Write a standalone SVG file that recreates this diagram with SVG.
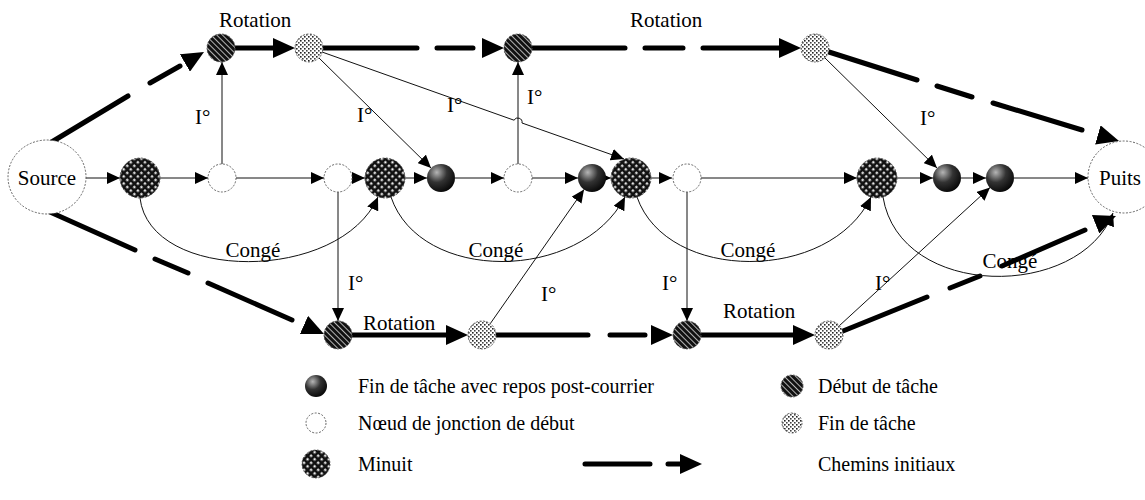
<svg xmlns="http://www.w3.org/2000/svg" width="1145" height="500" viewBox="0 0 1145 500">
  <style>
    text { font-family: "Liberation Serif", "Times New Roman", serif; fill: #000; }
    .lbl { font-size: 21px; }
    .leg { font-size: 20px; }
    .nd { stroke: #555; stroke-width: 0.9; stroke-dasharray: 2 1.5; }
    .thin { fill: none; stroke: #111; stroke-width: 1; marker-end: url(#ah); }
    .thick { fill: none; stroke: #000; stroke-width: 5; stroke-linecap: round; }
    .tip { fill: none; stroke: none; marker-end: url(#ahBig); }
  </style>
  <defs>
    <marker id="ah" markerUnits="userSpaceOnUse" markerWidth="14" markerHeight="12" refX="13" refY="6" orient="auto">
      <path d="M0,0 L13,6 L0,12 z" fill="#000"/>
    </marker>
    <marker id="ahBig" markerUnits="userSpaceOnUse" markerWidth="23" markerHeight="20" refX="22" refY="10" orient="auto">
      <path d="M0,0 L22,10 L0,20 z" fill="#000"/>
    </marker>
    <!-- task start: dark disc with fine light hatching -->
    <pattern id="hatch" width="4" height="4" patternUnits="userSpaceOnUse" patternTransform="rotate(-45)">
      <rect width="4" height="4" fill="#111"/>
      <line x1="0.5" y1="0" x2="0.5" y2="4" stroke="#ddd" stroke-width="0.8"/>
    </pattern>
    <!-- task end: light disc with small dark dots -->
    <pattern id="dots" width="4" height="4" patternUnits="userSpaceOnUse">
      <rect width="4" height="4" fill="#fff"/>
      <rect x="0" y="0" width="1.6" height="1.6" fill="#222"/>
      <rect x="2" y="2" width="1.6" height="1.6" fill="#444"/>
    </pattern>
    <!-- midnight: dark disc with white diamond grid -->
    <pattern id="check" width="5" height="5" patternUnits="userSpaceOnUse" patternTransform="rotate(45)">
      <rect width="5" height="5" fill="#111"/>
      <rect x="1.2" y="1.2" width="2.2" height="2.2" fill="#fff"/>
    </pattern>
    <!-- end with post-mail rest: shaded sphere -->
    <radialGradient id="sphere" cx="0.35" cy="0.3" r="0.8">
      <stop offset="0" stop-color="#b5b5b5"/>
      <stop offset="0.45" stop-color="#333"/>
      <stop offset="1" stop-color="#000"/>
    </radialGradient>
  </defs>
  <rect width="1145" height="500" fill="#fff"/>

  <g id="connectors">
    <!-- initial paths (thick, dashed) -->
    <path class="thick" d="M50,143 L128,96 M150,83 L180,66"/>
    <path class="tip" d="M185,63 L204,52"/>
    <path class="thick" d="M235,48 L285,48"/>
    <path class="tip" d="M273,48 L295,48"/>
    <path class="thick" d="M323,48 L417,48 M437,48 L473,48"/>
    <path class="tip" d="M482,48 L504,48"/>
    <path class="thick" d="M532,48 L625,48 M645,48 L683,48 M703,48 L790,48"/>
    <path class="tip" d="M779,48 L801,48"/>
    <path class="thick" d="M829,52 L917,80 M937,86 L972,97 M993,103 L1082,130"/>
    <path class="tip" d="M1098,135 L1119,141"/>
    <path class="thick" d="M50,212 L135,250 M155,259 L188,273 M208,283 L292,320"/>
    <path class="tip" d="M304,325 L324,334"/>
    <path class="thick" d="M352,335 L458,335"/>
    <path class="tip" d="M446,335 L468,335"/>
    <path class="thick" d="M496,335 L588,335 M610,335 L645,335"/>
    <path class="tip" d="M651,335 L673,335"/>
    <path class="thick" d="M701,335 L805,335"/>
    <path class="tip" d="M793,335 L815,335"/>
    <path class="thick" d="M843,331 L927,297 M950,288 L980,276 M1002,266 L1085,230"/>

    <!-- main row -->
    <path class="thin" d="M86,178 L120,178"/>
    <path class="thin" d="M160,178 L208,178"/>
    <path class="thin" d="M236,178 L324,178"/>
    <path class="thin" d="M352,178 L365,178"/>
    <path class="thin" d="M405,178 L427,178"/>
    <path class="thin" d="M455,178 L504,178"/>
    <path class="thin" d="M532,178 L578,178"/>
    <path class="thin" d="M600,178 L611,178"/>
    <path class="thin" d="M651,178 L672,178"/>
    <path class="thin" d="M700,178 L857,178"/>
    <path class="thin" d="M897,178 L933,178"/>
    <path class="thin" d="M961,178 L986,178"/>
    <path class="thin" d="M1014,178 L1088,178"/>

    <!-- I° links -->
    <path class="thin" d="M222,164 L222,62"/>
    <path class="thin" d="M518,164 L518,62"/>
    <path class="thin" d="M338,192 L338,321"/>
    <path class="thin" d="M687,192 L687,321"/>
    <path class="thin" d="M319,58 L431,168"/>
    <path class="thin" d="M322,52 L514,120.2 A4.3,4.3 0 0 1 522,123 L624,159"/>
    <path class="thin" d="M825,58 L937,168"/>
    <path class="thin" d="M490,324 L584,189.5"/>
    <path class="thin" d="M839,326 L990,187.5"/>

    <!-- Congé arcs -->
    <path class="thin" d="M140,198 C150,283 340,283 378,197"/>
    <path class="thin" d="M391,197 C420,283 580,283 625,197"/>
    <path class="thin" d="M637,197 C667,283 830,283 871,197"/>
    <path class="thin" d="M883,197 C900,300 1080,300 1113,213"/>
    <path class="tip" d="M1096,224 L1116,216"/>
  </g>

  <g id="labels">
    <text class="lbl" x="219" y="27">Rotation</text>
    <text class="lbl" x="630" y="27">Rotation</text>
    <text class="lbl" x="363" y="330">Rotation</text>
    <text class="lbl" x="723" y="318">Rotation</text>
    <text class="lbl" x="195" y="124">I°</text>
    <text class="lbl" x="357" y="122">I°</text>
    <text class="lbl" x="447" y="112">I°</text>
    <text class="lbl" x="527" y="104">I°</text>
    <text class="lbl" x="920" y="125">I°</text>
    <text class="lbl" x="348" y="290">I°</text>
    <text class="lbl" x="541" y="301">I°</text>
    <text class="lbl" x="662" y="290">I°</text>
    <text class="lbl" x="875" y="290">I°</text>
    <text class="lbl" x="253" y="257" text-anchor="middle">Congé</text>
    <text class="lbl" x="496" y="257" text-anchor="middle">Congé</text>
    <text class="lbl" x="748" y="257" text-anchor="middle">Congé</text>
    <text class="lbl" x="1010" y="268" text-anchor="middle">Congé</text>
  </g>

  <g id="source">
    <ellipse class="nd" cx="47" cy="177" rx="39" ry="37" fill="#fff"/>
    <text class="lbl" x="47" y="185" text-anchor="middle">Source</text>
  </g>
  <g id="puits">
    <ellipse class="nd" cx="1124" cy="177" rx="36" ry="36" fill="#fff"/>
    <text class="lbl" x="1120" y="185" text-anchor="middle">Puits</text>
  </g>

  <!-- top row -->
  <g id="t1"><circle class="nd" cx="221" cy="48" r="14" fill="url(#hatch)"/></g>
  <g id="t2"><circle class="nd" cx="309" cy="48" r="14" fill="url(#dots)"/></g>
  <g id="t3"><circle class="nd" cx="518" cy="48" r="14" fill="url(#hatch)"/></g>
  <g id="t4"><circle class="nd" cx="815" cy="48" r="14" fill="url(#dots)"/></g>

  <!-- main row -->
  <g id="m1"><circle class="nd" cx="140" cy="178" r="20" fill="url(#check)"/></g>
  <g id="j1"><circle class="nd" cx="222" cy="178" r="14" fill="#fff"/></g>
  <g id="j2"><circle class="nd" cx="338" cy="178" r="14" fill="#fff"/></g>
  <g id="m2"><circle class="nd" cx="385" cy="178" r="20" fill="url(#check)"/></g>
  <g id="f1"><circle cx="441" cy="178" r="14" fill="url(#sphere)"/></g>
  <g id="j3"><circle class="nd" cx="518" cy="178" r="14" fill="#fff"/></g>
  <g id="f2"><circle cx="592" cy="178" r="14" fill="url(#sphere)"/></g>
  <g id="m3"><circle class="nd" cx="631" cy="178" r="20" fill="url(#check)"/></g>
  <g id="j4"><circle class="nd" cx="687" cy="178" r="14" fill="#fff"/></g>
  <g id="m4"><circle class="nd" cx="877" cy="178" r="20" fill="url(#check)"/></g>
  <g id="f3"><circle cx="947" cy="178" r="14" fill="url(#sphere)"/></g>
  <g id="f4"><circle cx="1000" cy="178" r="14" fill="url(#sphere)"/></g>

  <!-- bottom row -->
  <g id="b1"><circle class="nd" cx="338" cy="335" r="14" fill="url(#hatch)"/></g>
  <g id="b2"><circle class="nd" cx="482" cy="335" r="14" fill="url(#dots)"/></g>
  <g id="b3"><circle class="nd" cx="687" cy="335" r="14" fill="url(#hatch)"/></g>
  <g id="b4"><circle class="nd" cx="829" cy="335" r="14" fill="url(#dots)"/></g>

  <g id="legend">
    <circle cx="316" cy="386" r="11" fill="url(#sphere)"/>
    <text class="leg" x="358" y="393">Fin de tâche avec repos post-courrier</text>
    <circle class="nd" cx="316" cy="423" r="10" fill="#fff"/>
    <text class="leg" x="358" y="430">Nœud de jonction de début</text>
    <circle class="nd" cx="316" cy="464" r="14" fill="url(#check)"/>
    <text class="leg" x="358" y="471">Minuit</text>
    <circle class="nd" cx="792" cy="386" r="11" fill="url(#hatch)"/>
    <text class="leg" x="818" y="393">Début de tâche</text>
    <circle class="nd" cx="792" cy="423" r="10" fill="url(#dots)"/>
    <text class="leg" x="818" y="430">Fin de tâche</text>
    <path class="thick" d="M585,464 L650,464 M668,464 L682,464"/>
    <path class="tip" d="M681,464 L702,464"/>
    <text class="leg" x="818" y="471">Chemins initiaux</text>
  </g>
</svg>
